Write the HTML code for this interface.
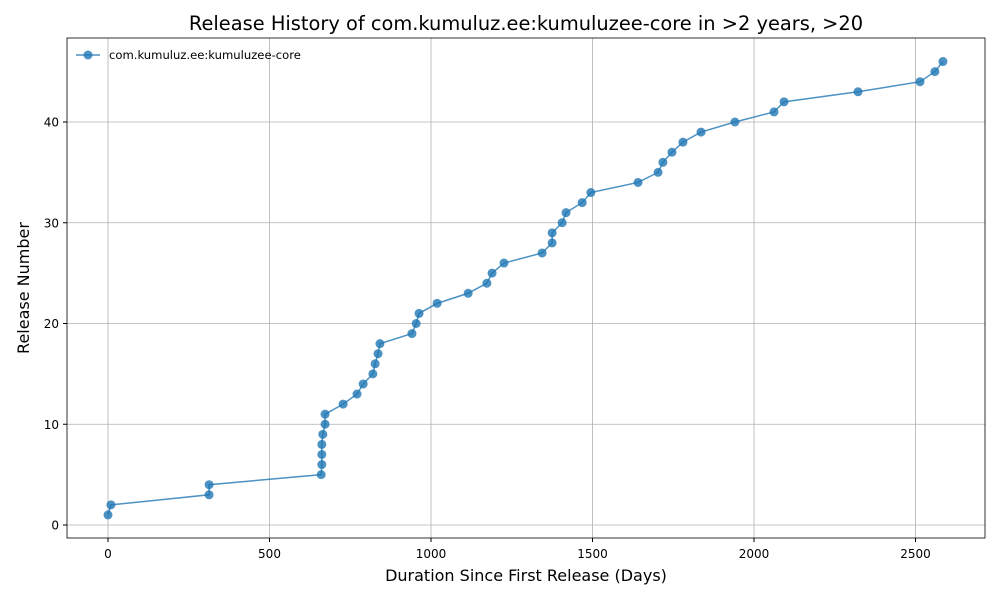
<!DOCTYPE html>
<html><head><meta charset="utf-8"><style>
body{margin:0;background:#fff;font-family:"DejaVu Sans","Liberation Sans",sans-serif}
</style></head><body>
<svg id="chart" width="1000" height="600" xmlns="http://www.w3.org/2000/svg" font-family="DejaVu Sans, Liberation Sans, sans-serif">
</svg>
<script>
const releaseNumbers=[1,2,3,4,5,6,7,8,9,10,11,12,13,14,15,16,17,18,19,20,21,22,23,24,25,26,27,28,29,30,31,32,33,34,35,36,37,38,39,40,41,42,43,44,45,46];
const durationDays=[0,9,313,313,660,662,662,662,665,672,672,728,771,790,820,827,836,842,941,954,963,1019,1115,1173,1189,1226,1344,1375,1375,1406,1418,1468,1495,1641,1703,1718,1746,1780,1836,1941,2062,2093,2322,2514,2560,2585];
const xTicks=[0,500,1000,1500,2000,2500];
const yTicks=[0,10,20,30,40];
const L=67,R=985,T=38,B=538;
const xs=v=>108+v*(431-108)/1000;
const ys=v=>525-v*(525-122)/40;
const svg=document.getElementById('chart');
const NS='http://www.w3.org/2000/svg';
function mk(tag,attrs,parent){const e=document.createElementNS(NS,tag);for(const k in attrs)e.setAttribute(k,attrs[k]);(parent||svg).appendChild(e);return e;}
xTicks.forEach(t=>{const g=mk('line',{x1:xs(t),x2:xs(t),y1:T,y2:B,stroke:'#b0b0b0','stroke-width':0.8});

const tk=mk('line',{x1:xs(t),x2:xs(t),y1:B,y2:B+4,stroke:'#000'});
const tx=mk('text',{x:xs(t),y:B+20,'text-anchor':'middle','font-size':12});tx.textContent=t;
});
yTicks.forEach(t=>{const g=mk('line',{x1:L,x2:R,y1:ys(t),y2:ys(t),stroke:'#b0b0b0','stroke-width':0.8});

const tk=mk('line',{x1:L-4,x2:L,y1:ys(t),y2:ys(t),stroke:'#000'});
const tx=mk('text',{x:L-8,y:ys(t)+4.5,'text-anchor':'end','font-size':12});tx.textContent=t;
});
const pts=durationDays.map((d,i)=>xs(d)+','+ys(releaseNumbers[i])).join(' ');
const pl=mk('polyline',{points:pts,fill:'none',stroke:'#1f77b4','stroke-width':1.5,'stroke-opacity':0.8});

durationDays.forEach((d,i)=>{const c=mk('circle',{cx:xs(d),cy:ys(releaseNumbers[i]),r:4.5,fill:'#1f77b4','fill-opacity':0.8});
});
const fr=mk('rect',{x:L,y:T,width:R-L,height:B-T,fill:'none',stroke:'#000','stroke-width':0.8});

const lg=mk('g',{});
mk('line',{x1:76,x2:100,y1:55,y2:55,stroke:'#1f77b4','stroke-width':1.5,'stroke-opacity':0.8},lg);
mk('circle',{cx:88,cy:55,r:4.5,fill:'#1f77b4','fill-opacity':0.8},lg);
const lt=mk('text',{x:109,y:59,'font-size':11.6},lg);lt.textContent='com.kumuluz.ee:kumuluzee-core';

const tt=mk('text',{x:526,y:30,'text-anchor':'middle','font-size':19.4});tt.textContent='Release History of com.kumuluz.ee:kumuluzee-core in >2 years, >20';

const xt=mk('text',{x:526,y:581,'text-anchor':'middle','font-size':16});xt.textContent='Duration Since First Release (Days)';

const yt=mk('text',{x:0,y:0,'text-anchor':'middle','font-size':16,transform:'translate(29,288) rotate(-90)'});yt.textContent='Release Number';

</script>
</body></html>
